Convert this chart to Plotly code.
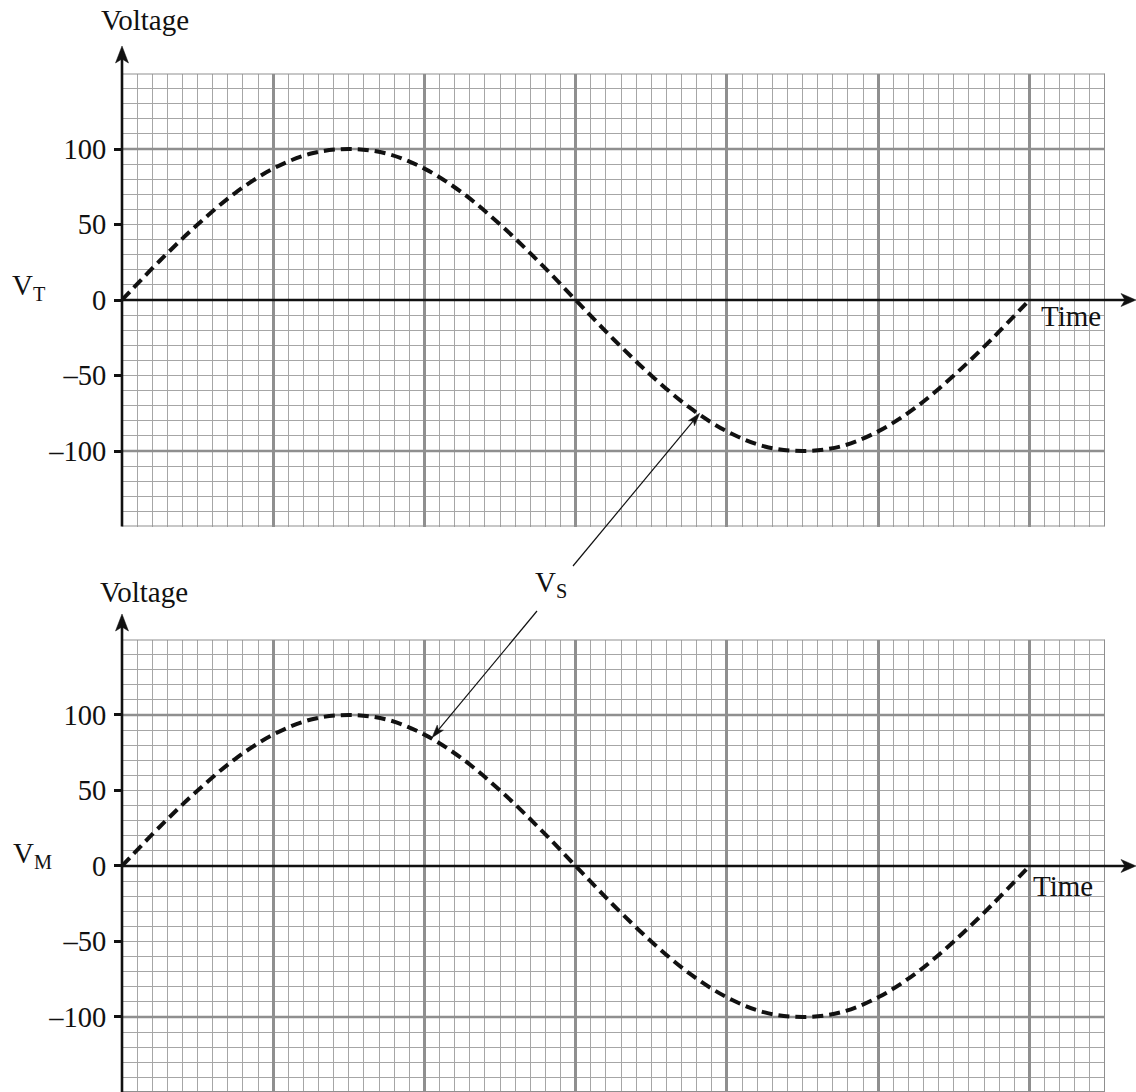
import math
import plotly.graph_objects as go

# ---------------- data ----------------
time = [0, 2.5, 5, 7.5, 10, 12.5, 15, 17.5, 20, 22.5, 25, 27.5, 30,
        32.5, 35, 37.5, 40, 42.5, 45, 47.5, 50, 52.5, 55, 57.5, 60]
v_t = [0, 26, 50, 71, 87, 97, 100, 97, 87, 71, 50, 26, 0,
       -26, -50, -71, -87, -97, -100, -97, -87, -71, -50, -26, 0]
v_m = [0, 26, 50, 71, 87, 97, 100, 97, 87, 71, 50, 26, 0,
       -26, -50, -71, -87, -97, -100, -97, -87, -71, -50, -26, 0]
y_tickvals = [-100, -50, 0, 50, 100]
y_ticktext = ["\u2013100", "\u201350", "0", "50", "100"]
# arrow targets of the V_S label (time, voltage)
vs_top_point = (38.2, -75)
vs_bot_point = (20.5, 85)

# ---------------- geometry ----------------
W, H = 1136, 1092
L, R = 122, 31
PW = W - L - R
FONT = "Liberation Serif, Times New Roman, serif"
X_RANGE = [0, 65]
TOP_RANGE = [-150, 150]
BOT_RANGE = [-149.7, 150]
TOP_PX = (73.5, 526.5)     # pixel top / bottom of the upper grid
BOT_PX = (639.5, 1092.0)   # pixel top / bottom of the lower grid


def px_x(x):
    return (x - L) / PW


def px_y(y):
    return 1 - y / H


def data_to_px(t, v, rng, pxr):
    xp = L + (t - X_RANGE[0]) / (X_RANGE[1] - X_RANGE[0]) * PW
    yp = pxr[0] + (rng[1] - v) / (rng[1] - rng[0]) * (pxr[1] - pxr[0])
    return xp, yp


fig = go.Figure()
line_style = dict(color="#111111", width=4, dash="11px,6px")
fig.add_trace(go.Scatter(x=time, y=v_t, mode="lines", line=line_style,
                         line_shape="spline", xaxis="x", yaxis="y",
                         showlegend=False, hoverinfo="skip"))
fig.add_trace(go.Scatter(x=time, y=v_m, mode="lines", line=line_style,
                         line_shape="spline", xaxis="x2", yaxis="y2",
                         showlegend=False, hoverinfo="skip"))

MINOR = "#a6a6a6"
MAJOR = "#8f8f8f"


def xax(anchor):
    return dict(range=X_RANGE, domain=[0, 1], anchor=anchor,
                tickmode="linear", tick0=0, dtick=10,
                showgrid=True, gridcolor=MAJOR, gridwidth=2.5,
                showticklabels=False, ticks="", zeroline=False, showline=False,
                minor=dict(tickmode="linear", tick0=0, dtick=1, showgrid=True,
                           gridcolor=MINOR, gridwidth=1.2, ticks=""),
                fixedrange=True)


def yax(anchor, domain, rng):
    return dict(range=rng, domain=domain, anchor=anchor,
                tickmode="array", tickvals=y_tickvals, ticktext=y_ticktext,
                showgrid=False, zeroline=False, showline=False,
                ticks="outside", ticklen=7, tickwidth=2.5, tickcolor="#111111",
                ticklabelstandoff=2,
                tickfont=dict(family=FONT, size=28.5, color="#111111"),
                minor=dict(tickmode="linear", tick0=0, dtick=10, showgrid=True,
                           gridcolor=MINOR, gridwidth=1.2, ticks=""),
                fixedrange=True)


top_dom = [px_y(TOP_PX[1]), px_y(TOP_PX[0])]
bot_dom = [0, px_y(BOT_PX[0])]

fig.update_layout(
    width=W, height=H,
    margin=dict(l=L, r=R, t=0, b=0),
    paper_bgcolor="white", plot_bgcolor="white",
    xaxis=xax("y"), yaxis=yax("x", top_dom, TOP_RANGE),
    xaxis2=xax("y2"), yaxis2=yax("x2", bot_dom, BOT_RANGE),
    font=dict(family=FONT, size=27, color="#111111"),
)

shapes = []
for xr, yr, rng in (("x", "y", TOP_RANGE), ("x2", "y2", BOT_RANGE)):
    ybot, ytop = rng
    for yv in (100, -100):
        shapes.append(dict(type="line", xref=xr, yref=yr, x0=0, x1=65, y0=yv, y1=yv,
                           line=dict(color=MAJOR, width=2.5), layer="between"))
    # grid border
    shapes.append(dict(type="line", xref=xr, yref=yr, x0=0, x1=65, y0=ytop, y1=ytop,
                       line=dict(color=MAJOR, width=2), layer="between"))
    shapes.append(dict(type="line", xref=xr, yref=yr, x0=0, x1=65, y0=ybot, y1=ybot,
                       line=dict(color=MAJOR, width=2), layer="between"))
    shapes.append(dict(type="line", xref=xr, yref=yr, x0=65, x1=65, y0=ybot, y1=ytop,
                       line=dict(color=MAJOR, width=2), layer="between"))


def arrow(tail, head, lw, hlen, hw, notch):
    """line + notched arrowhead, given in pixel coordinates, drawn in paper space."""
    tx, ty = tail
    hx, hy = head
    d = math.hypot(hx - tx, hy - ty)
    ux, uy = (hx - tx) / d, (hy - ty) / d
    nx, ny = -uy, ux
    bx, by = hx - ux * hlen, hy - uy * hlen
    pts = [(hx, hy),
           (bx + nx * hw, by + ny * hw),
           (hx - ux * (hlen - notch), hy - uy * (hlen - notch)),
           (bx - nx * hw, by - ny * hw)]
    path = "M " + " L ".join(f"{px_x(px):.5f},{px_y(py):.5f}" for px, py in pts) + " Z"
    lx, ly = hx - ux * (hlen - notch), hy - uy * (hlen - notch)
    return [
        dict(type="line", xref="paper", yref="paper",
             x0=px_x(tx), y0=px_y(ty), x1=px_x(lx), y1=px_y(ly),
             line=dict(color="#111111", width=lw), layer="above"),
        dict(type="path", xref="paper", yref="paper", path=path,
             fillcolor="#111111", line=dict(color="#111111", width=0.5), layer="above"),
    ]


# axes with arrows
x0px, y0top = data_to_px(0, 0, TOP_RANGE, TOP_PX)
_, y0bot = data_to_px(0, 0, BOT_RANGE, BOT_PX)
shapes += arrow((x0px, TOP_PX[1]), (x0px, 46), 2.6, 17, 6.5, 4)
shapes += arrow((x0px - 1, y0top), (1136, y0top), 2.6, 15, 6.5, 4)
shapes += arrow((x0px, BOT_PX[1] + 2), (x0px, 614), 2.6, 17, 6.5, 4)
shapes += arrow((x0px - 1, y0bot), (1136, y0bot), 2.6, 15, 6.5, 4)

# V_S pointer arrows
head_top = data_to_px(vs_top_point[0], vs_top_point[1], TOP_RANGE, TOP_PX)
head_bot = data_to_px(vs_bot_point[0], vs_bot_point[1], BOT_RANGE, BOT_PX)
shapes += arrow((573, 566), head_top, 1.2, 13, 4, 3)
shapes += arrow((537, 611), head_bot, 1.2, 13, 4, 3)
fig.update_layout(shapes=shapes)

ann = []
TXT = dict(showarrow=False, xref="paper", yref="paper",
           font=dict(family=FONT, size=29, color="#111111"))
ann.append(dict(TXT, text="Voltage", x=px_x(145), y=px_y(20), xanchor="center", yanchor="middle"))
ann.append(dict(TXT, text="Voltage", x=px_x(144), y=px_y(592), xanchor="center", yanchor="middle"))
ann.append(dict(TXT, text="V<sub>T</sub>", x=px_x(10), y=px_y(287), xanchor="left", yanchor="middle"))
ann.append(dict(TXT, text="V<sub>M</sub>", x=px_x(11), y=px_y(855), xanchor="left", yanchor="middle"))
ann.append(dict(TXT, text="Time", x=px_x(1071), y=px_y(316), xanchor="center", yanchor="middle"))
ann.append(dict(TXT, text="Time", x=px_x(1063), y=px_y(886), xanchor="center", yanchor="middle"))
ann.append(dict(TXT, text="V<sub>S</sub>", x=px_x(551), y=px_y(584), xanchor="center", yanchor="middle"))
fig.update_layout(annotations=ann)

fig.write_html(
    "out.html",
    config={"displayModeBar": False},
    post_script="document.body.style.margin='0';document.body.style.overflow='hidden';",
)
